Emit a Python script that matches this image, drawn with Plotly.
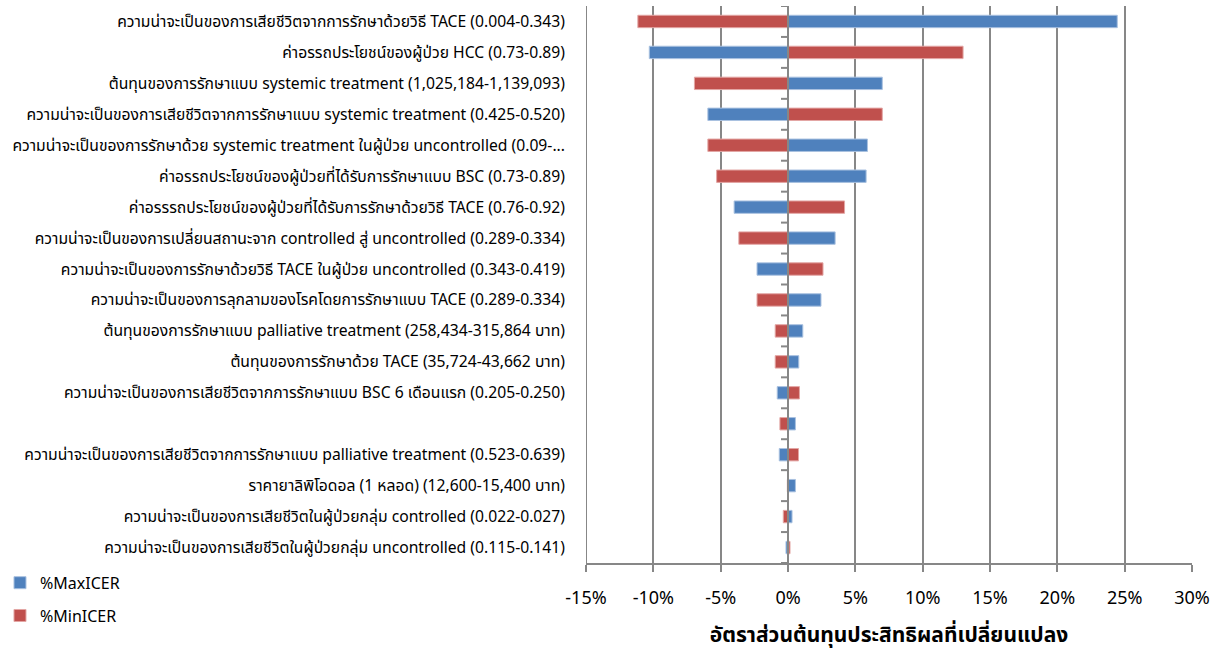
import plotly.graph_objects as go

# Parameters of the one-way sensitivity analysis (top to bottom)
labels = [
    "ความน่าจะเป็นของการเสียชีวิตจากการรักษาด้วยวิธี TACE (0.004-0.343)",
    "ค่าอรรถประโยชน์ของผู้ป่วย HCC (0.73-0.89)",
    "ต้นทุนของการรักษาแบบ systemic treatment (1,025,184-1,139,093)",
    "ความน่าจะเป็นของการเสียชีวิตจากการรักษาแบบ systemic treatment (0.425-0.520)",
    "ความน่าจะเป็นของการรักษาด้วย systemic treatment ในผู้ป่วย uncontrolled (0.09-...",
    "ค่าอรรถประโยชน์ของผู้ป่วยที่ได้รับการรักษาแบบ BSC (0.73-0.89)",
    "ค่าอรรรถประโยชน์ของผู้ป่วยที่ได้รับการรักษาด้วยวิธี TACE (0.76-0.92)",
    "ความน่าจะเป็นของการเปลี่ยนสถานะจาก controlled สู่ uncontrolled (0.289-0.334)",
    "ความน่าจะเป็นของการรักษาด้วยวิธี TACE ในผู้ป่วย uncontrolled (0.343-0.419)",
    "ความน่าจะเป็นของการลุกลามของโรคโดยการรักษาแบบ TACE (0.289-0.334)",
    "ต้นทุนของการรักษาแบบ palliative treatment (258,434-315,864 บาท)",
    "ต้นทุนของการรักษาด้วย TACE (35,724-43,662 บาท)",
    "ความน่าจะเป็นของการเสียชีวิตจากการรักษาแบบ BSC 6 เดือนแรก (0.205-0.250)",
    "",
    "ความน่าจะเป็นของการเสียชีวิตจากการรักษาแบบ palliative treatment (0.523-0.639)",
    "ราคายาลิพิโอดอล (1 หลอด) (12,600-15,400 บาท)",
    "ความน่าจะเป็นของการเสียชีวิตในผู้ป่วยกลุ่ม controlled (0.022-0.027)",
    "ความน่าจะเป็นของการเสียชีวิตในผู้ป่วยกลุ่ม uncontrolled (0.115-0.141)",
]

# Percentage change in ICER at the upper / lower bound of each parameter
max_icer = [24.45, -10.3, 7.0, -5.95, 5.9, 5.8, -4.0, 3.5, -2.3, 2.45,
            1.1, 0.8, -0.8, 0.55, -0.65, 0.55, 0.3, -0.15]
min_icer = [-11.15, 13.0, -6.95, 7.0, -5.95, -5.3, 4.2, -3.65, 2.6, -2.3,
            -0.95, -0.95, 0.85, -0.6, 0.78, -0.05, -0.35, 0.15]

x_ticks = [-15, -10, -5, 0, 5, 10, 15, 20, 25, 30]
x_title = "อัตราส่วนต้นทุนประสิทธิผลที่เปลี่ยนแปลง"

FONT = "Tahoma, 'Noto Sans Thai', 'Noto Sans', 'DejaVu Sans', sans-serif"
GRID = "#878787"
BLUE = "#4F81BD"
RED = "#C0504D"

rows = list(range(len(labels)))

fig = go.Figure()
fig.add_trace(go.Bar(
    y=rows, x=max_icer, orientation="h", name="%MaxICER",
    marker=dict(color=BLUE, line=dict(color="#A9C1E0", width=1)),
    width=0.4, legendgroup="a",
))
fig.add_trace(go.Bar(
    y=rows, x=min_icer, orientation="h", name="%MinICER",
    marker=dict(color=RED, line=dict(color="#E3A6A4", width=1)),
    width=0.4, legendgroup="b",
))

# vertical axis line at 0% with category-boundary tick marks on its left side
shapes = [dict(type="line", xref="x", yref="paper", x0=0, x1=0, y0=0, y1=1,
               line=dict(color=GRID, width=2), layer="above"),
          dict(type="line", xref="x", yref="paper", x0=-15, x1=-15, y0=0, y1=1,
               line=dict(color=GRID, width=2), layer="below")]
for i in range(len(labels) + 1):
    shapes.append(dict(type="line", xref="x", yref="y", xsizemode="pixel",
                       xanchor=0, x0=-7, x1=0, y0=i - 0.5, y1=i - 0.5,
                       line=dict(color=GRID, width=2), layer="above"))

fig.update_layout(
    width=1217, height=653,
    margin=dict(l=586, r=25, t=6, b=90, autoexpand=False),
    paper_bgcolor="white", plot_bgcolor="white",
    barmode="overlay",
    font=dict(family=FONT, color="#000000"),
    shapes=shapes,
    showlegend=True,
    legend=dict(
        x=-0.967, xanchor="left", y=-0.005, yanchor="top",
        font=dict(size=16, family=FONT, color="#000000"),
        traceorder="grouped", tracegroupgap=9,
        bgcolor="rgba(0,0,0,0)",
    ),
    xaxis=dict(
        range=[-15, 30], tickvals=x_ticks,
        ticktext=[f"{v}%" for v in x_ticks],
        showgrid=True, gridcolor=GRID, gridwidth=2,
        zeroline=False,
        showline=True, linecolor=GRID, linewidth=2,
        ticks="outside", ticklen=7, tickcolor=GRID, tickwidth=2,
        tickfont=dict(size=18, family=FONT, color="#000000"),
        ticklabelstandoff=10,
        title=dict(text=f"<b>{x_title}</b>", font=dict(size=21, family=FONT, color="#000000"), standoff=17),
        automargin=False,
        fixedrange=True,
    ),
    yaxis=dict(
        range=[len(labels) - 0.5, -0.5],
        tickvals=rows, ticktext=labels,
        showgrid=False, zeroline=False, showline=False,
        ticks="", ticklabelstandoff=20,
        tickfont=dict(size=15.7, family=FONT, color="#000000"),
        automargin=False,
        fixedrange=True,
    ),
)

fig.write_html("out.html")
